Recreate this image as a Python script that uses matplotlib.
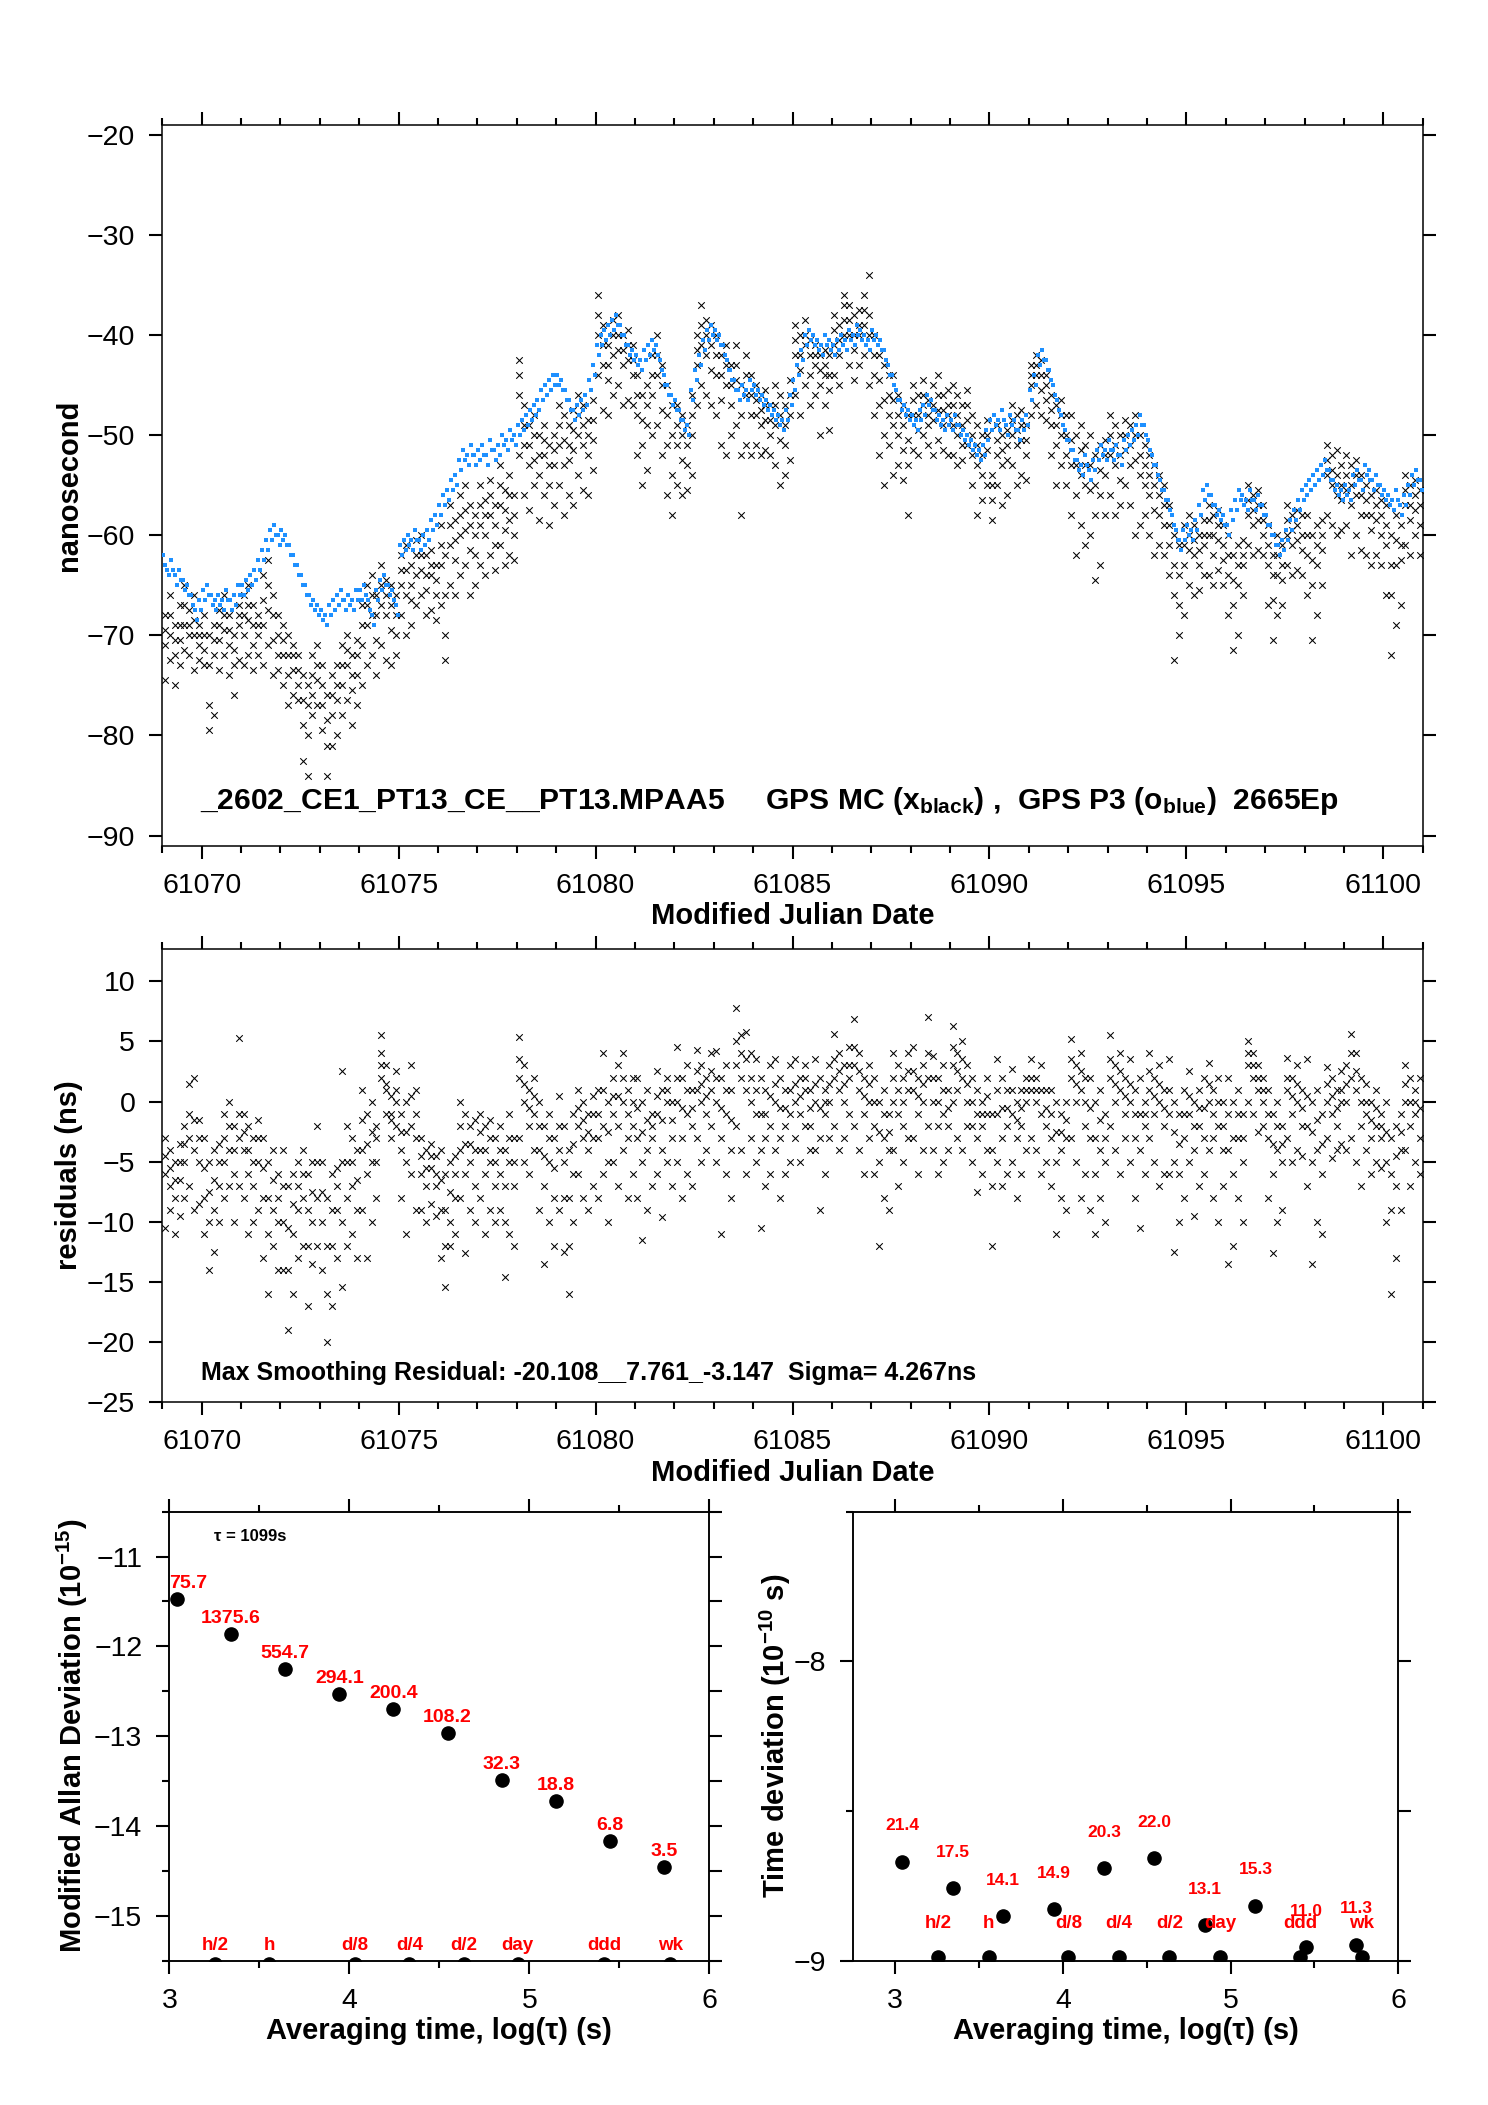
import numpy as np
import matplotlib
matplotlib.use('Agg')
import matplotlib.pyplot as plt
from matplotlib.ticker import MultipleLocator, FormatStrFormatter, NullFormatter

plt.rcParams['font.family'] = ['Liberation Sans', 'DejaVu Sans']
plt.rcParams['mathtext.fontset'] = 'custom'
plt.rcParams['mathtext.rm'] = 'Liberation Sans'
plt.rcParams['mathtext.bf'] = 'Liberation Sans:bold'
plt.rcParams['mathtext.it'] = 'Liberation Sans:italic'

# ---------------- data ----------------
mjd_first_day = 61069
# GPS P3 (blue dots), 20 epochs per day
p3_ns = [
    [-62,-63,-63.5,-64,-62.5,-63.5,-64,-65,-63.5,-64.5,-64.5,-65.5,-65,-66,-66,-67,-67.5,-68.5,-66.5,-67.5],
    [-65.5,-66.5,-65,-66,-66,-67,-66.5,-67.5,-66,-67,-66.5,-67.5,-65.5,-66.5,-66.5,-67.5,-66,-67,-65,-66],
    [-65,-66,-64.5,-65.5,-64,-65,-63.5,-64.5,-62.5,-63.5,-61.5,-62.5,-60.5,-61.5,-59.5,-60.5,-59,-60,-60,-61],
    [-59.5,-60.5,-60,-61,-61,-62,-62,-63,-63,-64,-64,-65,-65,-66,-66,-67,-66.5,-67.5,-67,-68],
    [-67.5,-68.5,-68,-69,-67,-68,-66.5,-67.5,-66,-67,-65.5,-66.5,-66.5,-67.5,-66,-67,-66.5,-67.5,-65.5,-66.5],
    [-65.5,-66.5,-65,-66,-66.5,-67.5,-68,-69,-65.5,-66.5,-64.5,-65.5,-64,-65,-65,-66,-65.5,-66.5,-67,-68],
    [-61,-62,-60.5,-61.5,-60,-61,-60.5,-61.5,-59.5,-60.5,-60.5,-61.5,-60,-61,-59.5,-60.5,-58.5,-59.5,-58,-59],
    [-57,-58,-56,-57,-55.5,-56.5,-54.5,-55.5,-54,-55,-52.5,-53.5,-51.5,-52.5,-52,-53,-51,-52,-52,-53],
    [-51.5,-52.5,-51,-52,-52,-53,-50.5,-51.5,-51.5,-52.5,-51,-52,-50,-51,-50.5,-51.5,-49.5,-50.5,-50,-51],
    [-49,-50,-48.5,-49.5,-48,-49,-47.5,-48.5,-47,-48,-46.5,-47.5,-45.5,-46.5,-45,-46,-44.5,-45.5,-44,-45],
    [-44,-45,-44.5,-45.5,-45.5,-46.5,-46.5,-47.5,-47.5,-48.5,-47,-48,-46.5,-47.5,-46,-47,-44.5,-45.5,-43,-44],
    [-41,-42,-40,-41,-39.5,-40.5,-39,-40,-38.5,-39.5,-38,-39,-39,-40,-40,-41,-41,-42,-41.5,-42.5],
    [-42,-43,-42.5,-43.5,-41.5,-42.5,-41,-42,-40.5,-41.5,-41,-42,-42.5,-43.5,-44,-45,-45,-46,-46,-47],
    [-46.5,-47.5,-47.5,-48.5,-48.5,-49.5,-49,-50,-45.5,-46.5,-43.5,-44.5,-42,-43,-40.5,-41.5,-39.5,-40.5,-39,-40],
    [-39.5,-40.5,-40,-41,-41,-42,-42.5,-43.5,-43.5,-44.5,-44.5,-45.5,-45.5,-46.5,-45,-46,-45.5,-46.5,-44.5,-45.5],
    [-45,-46,-45.5,-46.5,-46,-47,-46.5,-47.5,-47,-48,-47.5,-48.5,-48,-49,-48.5,-49.5,-47.5,-48.5,-46,-47],
    [-44.5,-45.5,-43,-44,-41.5,-42.5,-40,-41,-39.5,-40.5,-40,-41,-40.5,-41.5,-41,-42,-40,-41,-40.5,-41.5],
    [-41,-42,-40.5,-41.5,-40,-41,-40.5,-41.5,-39.5,-40.5,-40,-41,-39,-40,-39.5,-40.5,-40,-41,-40.5,-41.5],
    [-39.5,-40.5,-40,-41,-40.5,-41.5,-41.5,-42.5,-43,-44,-44,-45,-45.5,-46.5,-46.5,-47.5,-47,-48,-47.5,-48.5],
    [-48,-49,-48.5,-49.5,-47.5,-48.5,-47,-48,-46,-47,-46.5,-47.5,-47.5,-48.5,-48,-49,-48.5,-49.5,-48,-49],
    [-48.5,-49.5,-48,-49,-49,-50,-49.5,-50.5,-50,-51,-50.5,-51.5,-51,-52,-51.5,-52.5,-51,-52,-49.5,-50.5],
    [-48.5,-49.5,-48,-49,-48.5,-49.5,-47.5,-48.5,-49,-50,-48,-49,-48.5,-49.5,-49.5,-50.5,-48.5,-49.5,-48,-49],
    [-45.5,-46.5,-44,-45,-42,-43,-41.5,-42.5,-42.5,-43.5,-43.5,-44.5,-45,-46,-46.5,-47.5,-48,-49,-49.5,-50.5],
    [-50.5,-51.5,-51.5,-52.5,-52.5,-53.5,-53,-54,-52,-53,-53.5,-54.5,-52.5,-53.5,-51.5,-52.5,-51,-52,-51.5,-52.5],
    [-50.5,-51.5,-51.5,-52.5,-51,-52,-52,-53,-50.5,-51.5,-50,-51,-49.5,-50.5,-49,-50,-48,-49,-49,-50],
    [-50.5,-51.5,-52,-53,-53,-54,-54.5,-55.5,-55.5,-56.5,-56.5,-57.5,-58,-59,-59.5,-60.5,-60.5,-61.5,-59.5,-60.5],
    [-59,-60,-59.5,-60.5,-58.5,-59.5,-57,-58,-55.5,-56.5,-55,-56,-56,-57,-57,-58,-57.5,-58.5,-58,-59],
    [-59,-60,-57.5,-58.5,-56.5,-57.5,-55.5,-56.5,-56,-57,-56.5,-57.5,-55.5,-56.5,-56.5,-57.5,-56,-57,-57,-58],
    [-58,-59,-59,-60,-60,-61,-61,-62,-60.5,-61.5,-59.5,-60.5,-58.5,-59.5,-57.5,-58.5,-56.5,-57.5,-55.5,-56.5],
    [-55,-56,-54.5,-55.5,-54,-55,-53.5,-54.5,-53,-54,-52.5,-53.5,-53.5,-54.5,-54.5,-55.5,-55,-56,-55.5,-56.5],
    [-55,-56,-55.5,-56.5,-54,-55,-53.5,-54.5,-54.5,-55.5,-53,-54,-53.5,-54.5,-54.5,-55.5,-54,-55,-55,-56],
    [-55.5,-56.5,-56,-57,-56.5,-57.5,-55.5,-56.5,-57,-58,-56,-57,-55,-56,-54,-55,-53.5,-54.5,-54.5,-55.5],
]

# GPS MC (black x), 8 epochs per day, 4 tracks per epoch
mc_ns = [
    [-68,-69.5,-71,-74.5, -66,-68,-70,-72.5, -69,-70.5,-72,-75, -67,-69,-70.5,-73, -65,-67,-69,-71.5, -67.5,-69,-70,-72, -66,-68.5,-70,-73.5, -69,-70,-71,-72.5],
    [-68,-70,-71.5,-73, -70,-73,-77,-79.5, -69,-70.5,-72,-78, -67.5,-69,-70.5,-73.5, -66,-68,-69.5,-72, -68,-69.5,-71,-74, -70,-71.5,-73,-76, -67,-68,-69,-72.5],
    [-66,-68,-70,-73, -65,-67,-68.5,-72, -67,-69,-71,-73.5, -68,-69,-70,-72, -64,-66.5,-69,-73, -62.5,-65,-67.5,-71, -66,-68,-70.5,-74, -68,-70,-72,-73.5],
    [-69,-70.5,-72,-75, -70,-72,-74,-77, -71,-72,-73.5,-76, -72,-73.5,-75,-76.5, -74,-76.5,-79,-82.5, -75,-77,-80,-84, -72,-74,-76,-78, -71,-73,-74.5,-77],
    [-73,-75,-77,-79.5, -76,-78.5,-81,-84, -74,-76,-78,-81, -73,-75,-76.5,-80, -71,-73,-75,-78, -70,-71.5,-73,-76.5, -72,-74,-75.5,-79, -70.5,-72,-74,-77],
    [-67,-69,-71,-75, -65,-67,-69,-73, -64,-66,-68,-72, -66,-68,-70.5,-74, -63,-65,-67,-71, -64.5,-66,-68,-72.5, -65,-67,-69.5,-73, -66,-68,-70,-72],
    [-62,-63.5,-65,-68, -61,-63.5,-66,-70, -63,-65,-66.5,-69, -60.5,-62,-64,-67, -60,-62,-63.5,-66, -62,-64,-65.5,-68, -61.5,-63,-64,-67.5, -63,-64.5,-66,-68.5],
    [-59,-61,-63,-67, -62,-66,-70,-72.5, -57,-59,-61,-65, -58.5,-60.5,-62.5,-66, -56,-58,-60,-64, -55,-57.5,-59.5,-63, -57,-59,-61.5,-66, -58,-60,-62,-65],
    [-55,-57,-59,-63, -56.5,-58,-60,-64, -54.5,-56,-58,-62, -57,-59,-61,-63.5, -53,-55,-57,-61, -55.5,-57.5,-59.5,-63, -54,-56,-58.5,-62, -56,-58,-60,-62.5],
    [-42.5,-44,-46,-52, -47,-49,-51,-56, -49,-51,-53,-57.5, -48,-50,-52.5,-55, -50,-52,-54,-58.5, -49,-50.5,-52,-56, -51,-53,-55,-59, -50,-51.5,-53,-57],
    [-47,-49,-51,-55, -48,-50.5,-53,-58, -49,-51,-52.5,-56, -47.5,-49.5,-51.5,-57, -46,-48,-50,-54, -47,-49,-51,-55.5, -48.5,-50,-52,-56, -46.5,-48.5,-50.5,-53.5],
    [-36,-38,-40,-44, -39,-41,-43,-47.5, -41,-43,-44.5,-48, -38.5,-40,-42,-46, -38,-40,-41.5,-45, -40,-41.5,-43,-47, -39.5,-41,-42.5,-46.5, -41,-42.5,-44,-47],
    [-44,-46,-48,-52, -46,-48.5,-51,-55, -45,-47,-49,-53.5, -42,-44,-46,-50, -40,-42,-44,-49, -43,-45,-47.5,-52, -45,-48,-51,-56, -47,-50,-54,-58],
    [-47,-49,-51,-55, -48,-50,-52.5,-56, -49,-51,-53,-55.5, -46,-48,-50,-54, -40,-41.5,-43,-47, -37,-39,-41,-45, -38.5,-40,-42,-46, -39,-41,-43.5,-47],
    [-40,-42,-44,-48, -42,-44,-46.5,-51, -41,-43,-45,-52, -43,-45,-47,-50, -41,-43,-44.5,-49, -45,-48,-52,-58, -42,-44,-46,-51, -44,-46,-48,-52],
    [-45,-46.5,-48,-51, -46,-47.5,-49,-52, -45.5,-47,-48.5,-51.5, -47,-48.5,-50,-52, -45,-47,-49,-53, -46,-48,-50.5,-55, -47,-49,-51,-54, -44.5,-46,-48,-52.5],
    [-39,-40.5,-42,-46, -40,-42,-43.5,-48, -38.5,-40,-41,-45, -40.5,-42,-44,-47, -41,-42,-43,-46, -42,-43.5,-45,-50, -41.5,-43,-44,-47, -42,-44,-45.5,-49.5],
    [-38,-39.5,-41,-44, -39,-40.5,-42,-45, -36,-37,-38.5,-40, -37,-38.5,-40,-43, -38,-40,-41.5,-44.5, -37.5,-39,-40,-43, -36,-37.5,-39,-42, -34,-38,-40,-45],
    [-40,-42,-44,-48, -42,-44.5,-47,-52, -43,-46.5,-50,-55, -44,-46,-48,-51, -44,-46.5,-49,-54, -46,-48,-50,-53, -47,-49,-51.5,-54.5, -48,-50.5,-53,-58],
    [-45,-46.5,-48,-51.5, -46,-48,-49.5,-52, -44.5,-46,-47,-50, -46.5,-48,-49,-51, -45,-47,-48.5,-52, -44,-46,-47.5,-50.5, -46,-47.5,-49,-51.5, -45.5,-47,-48,-52],
    [-45,-47,-49,-52, -46,-48,-50,-53, -47,-49,-51,-52.5, -45.5,-47,-48.5,-51, -48,-50,-52,-55, -49,-51,-53,-58, -50,-52,-54,-56.5, -48.5,-50,-51.5,-55],
    [-54,-55,-56.5,-58.5, -49,-50.5,-52,-55, -50,-51.5,-53,-57, -49.5,-51,-52.5,-56, -47,-48.5,-50,-53, -48,-49.5,-51,-55, -47.5,-49,-50.5,-54, -49,-50.5,-52,-54.5],
    [-43,-44,-45,-48, -42,-43,-44,-47, -42.5,-44,-45.5,-48, -44,-45,-46.5,-48.5, -46,-47.5,-49,-52, -47,-49,-51,-55, -46.5,-48,-50,-53, -48,-50,-52,-55],
    [-48,-50.5,-53,-58, -50,-53,-56,-62, -49,-51.5,-54,-59, -51,-53,-55,-61, -50,-53,-55.5,-60, -52,-55,-58,-64.5, -51,-53.5,-56,-63, -50.5,-52,-54,-58],
    [-48,-50,-52,-56, -49,-51,-53,-58, -50,-52,-54.5,-57, -48.5,-50,-51.5,-55, -49,-51,-53,-57, -48,-50,-52.5,-60, -50,-52,-54,-59, -51,-53,-55,-58],
    [-52,-54,-56,-60, -53,-55,-57.5,-62, -54,-56,-58,-61, -55,-57,-59,-62, -57,-59,-61,-64, -60,-63,-66,-72.5, -61,-64,-67,-70, -59,-61,-63,-68],
    [-58,-60,-61.5,-65, -59,-60.5,-62,-66, -60,-61.5,-63,-65.5, -58.5,-60,-61,-64, -57,-58.5,-60,-64, -58,-60,-62,-65, -57.5,-59,-60.5,-63.5, -59,-61,-62.5,-65],
    [-60,-62,-64,-68, -62,-64.5,-67,-71.5, -61,-63,-65,-70, -60.5,-62,-63,-66, -55,-56.5,-58,-61, -56,-57.5,-59,-62, -55.5,-57,-58.5,-61.5, -57,-58.5,-60,-62],
    [-59,-61,-63,-67, -62,-64,-66.5,-70.5, -60,-62,-64,-68, -61,-63,-64.5,-67, -57,-58.5,-60,-63, -58,-59.5,-61,-64, -57.5,-59,-60.5,-63.5, -58,-60,-61.5,-64],
    [-58,-60,-62,-66, -60,-62.5,-65,-70.5, -59,-61,-63,-68, -58.5,-60,-61.5,-65, -51,-52.5,-54,-58, -52,-53.5,-55,-59, -51.5,-54,-56,-60, -53,-55,-56.5,-59.5],
    [-52,-54,-55.5,-59, -53,-55,-57,-62, -52.5,-54,-56,-60, -54,-56,-58,-61.5, -55,-56.5,-58,-62, -56,-58,-59.5,-63, -55.5,-57,-58.5,-62, -56.5,-58,-60,-63],
    [-57,-59,-61,-66, -60,-63,-66,-72, -58,-60.5,-63,-69, -59,-61,-62.5,-67, -54,-55.5,-57,-61, -55,-57,-58.5,-62, -54.5,-56,-57.5,-60, -55.5,-57,-59,-62],
]

# smoothing residuals (ns), same epochs / tracks as mc_ns
resid_ns = [
    [-3,-4.5,-6,-10.5, -4,-5.5,-7,-9, -5,-6.5,-8,-11, -3.5,-5,-6.5,-9.5, -2,-3.5,-5,-8, 1.5,-1,-3,-7, 2,-1.5,-4,-9, -1.5,-3,-5,-8.5],
    [-3,-5.5,-8,-11, -5,-7.5,-10,-14, -4,-6.5,-9,-12.5, -3.5,-5,-7,-10, -1,-3,-5,-8, 0,-2,-4,-7, -2,-4,-6,-10, 5.3,-1,-3,-7],
    [-1,-2.5,-4,-8, -2,-4,-6,-11, -3,-5,-7,-10, -1.5,-3,-5,-9, -3,-5.5,-8,-13, -5,-8,-11,-16, -4,-6.5,-9,-12, -6,-8,-10,-14],
    [-4,-7,-10,-14, -7,-10.5,-14,-19, -6,-8.5,-11,-16, -5,-7,-9,-13, -4,-6,-8,-12, -6,-9,-12,-17, -5,-7.5,-10,-13.5, -2,-5,-8,-12],
    [-5,-7.5,-10,-14, -8,-12,-16,-20, -6,-9,-12,-17, -5.5,-7,-9,-13, 2.5,-5,-10,-15.4, -2,-5,-8,-12, -3,-5,-7,-11, -4,-6.5,-9,-13],
    [1,-1.5,-4,-9, -1,-3.5,-6,-13, 0,-2.5,-5,-10, -2,-3,-5,-8, 2,4,3,5.5, 1,3,1.5,-1, -1,0.5,-1.5,-3, 0,2.5,1,-2],
    [-1,-2.5,-4,-8, 0,-2.5,-5,-11, 3,0.5,-2,-6, 1,-1,-3,-9, -3,-4.5,-6,-9, -4,-5.5,-7,-10, -3.5,-4.5,-5.5,-8.5, -4.5,-6,-7,-9.5],
    [-4,-6.5,-9,-13, -6,-9,-12,-15.4, -5,-7.5,-10,-12, -4.5,-6,-8,-11, 0,-2,-4,-8, -1,-3.5,-6,-12.6, -2,-3.5,-5,-9, -1.5,-4,-7,-10],
    [-1,-2.5,-4,-8, -2,-4,-6,-11, -1.5,-3,-5,-9, -3,-5,-7,-10, -2,-4,-6,-9, -4,-7,-10,-14.6, -1,-3,-5,-11, -3,-5,-7,-12],
    [5.4,3.5,2,-3, 3,1.5,0,-5, 1,-0.5,-2,-6, 2,0.5,-1,-4, 0,-2,-4,-9, -2,-4.5,-7,-13.5, -1,-3,-5,-10, -3,-5.5,-8,-12],
    [0.5,-2,-4,-9, -2,-5,-8,-12.5, -4,-8,-12,-16, -1,-3.5,-6,-10, 1,-0.5,-2,-6, 0,-1.5,-3,-8, -1,-2.5,-4,-9, 0.5,-1,-3,-7],
    [1,-1,-3,-8, 4,1,-2,-6, 0,-2.5,-5,-10, 2,0.5,-1,-5, 3,0.5,-2,-7, 4,2,0,-4, 1,-1,-3,-8, 2,0,-2,-6],
    [2,-0.5,-3,-8, 0,-2.5,-5,-11.5, 1,-1.5,-4,-9, -1,-2,-3,-7, 2.5,0.5,-1,-6, 1,-1.5,-4,-9.6, 2,1,0,-5, 0,-1.5,-3,-7],
    [4.5,2,0,-5, 2,-0.5,-3,-8, 3,1,-1,-6, 1,-0.5,-2,-7, 4.3,2.5,1,-3, 3,1.5,0,-5, 2,0.5,-1,-4, 4,2.5,1,-2],
    [4.2,2,0,-5, 2,-0.5,-3,-11, 3,1,-1,-6, 1,-1.5,-4,-8, 7.8,5,3,-2, 5.5,4,2,-4, 5.8,3.5,1,-6, 4,2,0,-3],
    [3.5,1,-1,-5, 2,-1,-4,-10.5, 1,-1,-3,-7, 3,0.5,-2,-6, 3.5,1.5,0,-4, 2,-0.5,-3,-8, 1,-0.5,-2,-6, 3,1,-1,-5],
    [3.5,1.5,0,-3, 2,0.5,-1,-5, 3,2,1,-2, 1,-0.5,-2,-4, 3.5,1.5,0,-4, 2,-0.5,-3,-9, 1,0,-1,-6, 3,1.5,0,-3],
    [5.6,3.5,2,-2, 4,2.5,1,-4, 3,1.5,0,-3, 4.5,3,2,-1, 6.9,4.5,3,-2, 4,2.5,1,-4, 2,0.5,-1,-6, 3,1.5,0,-3],
    [2,0,-2,-6, 0,-2.5,-5,-12, 1,-1,-3,-8, -1,-2.5,-4,-9, 4,2,0,-4, 3,1,-1,-7, 2,0,-2,-5, 4,2.5,1,-3],
    [4.5,2.5,1,-3, 2,0.5,-1,-6, 3,1.5,0,-4, 7,4,2,-2, 3.8,2,0,-4, 2,0,-2,-6, 3,1,-1,-5, 1,-0.5,-2,-4],
    [6.3,4.5,3,0, 4,2.5,1,-3, 5,3.5,2,-4, 3,1.5,0,-2, 2,0,-2,-5, 1,-1,-3,-7.5, 0,-1,-2,-6, 2,0.5,-1,-4],
    [-1,-4,-7,-12, 3.5,1,-1,-5, 2,-0.5,-3,-7, 1,-0.5,-2,-6, 2.7,1,-1,-5, 0,-1.5,-3,-8, 1,-0.5,-2,-6, 2,1,0,-4],
    [3.5,2,1,-3, 2,1,0,-4, 3,1,-1,-6, 1,-0.5,-2,-5, 1,-1,-3,-7, 0,-2.5,-5,-11, -1,-2.5,-4,-8, 0,-1.5,-3,-9],
    [5.2,3.5,2,-3, 3,1.5,0,-5, 4,2.5,1,-8, 2,0,-2,-6, 2,-0.5,-3,-9, 0,-3,-6,-11, 1,-1.5,-4,-8, -1,-3,-5,-10],
    [5.5,3.5,2,-2, 3,1.5,0,-4, 4,2.5,1,-6, 2,0.5,-1,-3, 3.5,1.5,0,-5, 1,-1,-3,-8, 2,-1,-4,-10.5, 0,-1,-2,-6],
    [4,2.5,1,-3, 2,0.5,-1,-5, 3,1.5,0,-7, 1,-0.5,-2,-6, 3.5,1,-1,-6, 0,-2.5,-5,-12.5, -1,-3.5,-6,-10, 1,-1,-3,-8],
    [2.5,0.5,-1,-5, 0,-2,-4,-9.5, 1,-0.5,-2,-7, 2,-0.5,-3,-6, 3.2,1.5,0,-4, 1,-1,-3,-8, 2,0,-2,-10, 0,-2,-4,-7],
    [2,-1,-4,-13.5, 0,-3,-6,-12, 1,-1,-3,-8, -1,-3,-5,-10, 5,4,3,0, 4,3,2,-1, 3,2,1,-2.5, 2,1,0,-2],
    [1,-1,-3,-8, -1,-3.5,-6,-12.6, 0,-2,-4,-10, -2,-3.5,-5,-9, 3.6,2,1,-3, 2,0.5,-1,-5, 3,1.5,0,-4, 1,-0.5,-2,-4.5],
    [3.5,0.5,-2,-7, 0,-2.5,-5,-13.5, 1,-1.5,-4,-10, -1,-3.5,-6,-11, 2.9,1.5,0,-3, 2,0.5,-1,-4.7, 1,-0.5,-2,-4, 2.5,1,0,-3.5],
    [3,1.5,0,-4, 5.6,4,2,-3, 4,2.5,1,-5, 2,0,-2,-7, 1.5,0,-1,-4, 0,-1.5,-3,-6, 1,-0.5,-2,-5, -1,-2,-3,-5.5],
    [0,-2.5,-5,-10, -3,-6,-9,-16, -2,-4.5,-7,-13, -1,-2.5,-4,-9, 3,1.5,0,-4, 2,0,-2,-7, 1,0,-1,-5, 2,-0.5,-3,-6],
]
tracks_per_epoch = 4

# stability panels
logtau = [3.041, 3.342, 3.643, 3.944, 4.245, 4.546, 4.847, 5.148, 5.449, 5.750]
mdev_log = [-11.47, -11.86, -12.25, -12.53, -12.70, -12.96, -13.49, -13.72, -14.16, -14.45]
mdev_labels = ['75.7', '1375.6', '554.7', '294.1', '200.4', '108.2', '32.3', '18.8', '6.8', '3.5']
tdev_log = [-8.668, -8.755, -8.850, -8.826, -8.689, -8.656, -8.880, -8.815, -8.953, -8.945]
tdev_labels = ['21.4', '17.5', '14.1', '14.9', '20.3', '22.0', '13.1', '15.3', '11.0', '11.3']
period_logtau = [3.255, 3.556, 4.033, 4.334, 4.635, 4.936, 5.414, 5.782]
period_labels = ['h/2', 'h', 'd/8', 'd/4', 'd/2', 'day', 'ddd', 'wk']
mdev_period_level = -15.53
tdev_period_level = -8.988
tau0_text = 'τ = 1099s'

# ------------- derived arrays -------------
p3_t, p3_y = [], []
for d, row in enumerate(p3_ns):
    for k, v in enumerate(row):
        p3_t.append(mjd_first_day + d + (k + 0.5) / len(row))
        p3_y.append(v)
mc_t, mc_y, rs_y = [], [], []
for d, (row, rrow) in enumerate(zip(mc_ns, resid_ns)):
    n_ep = len(row) // tracks_per_epoch
    for e in range(n_ep):
        for j in range(tracks_per_epoch):
            mc_t.append(mjd_first_day + d + (e + 0.5) / n_ep)
            mc_y.append(row[tracks_per_epoch * e + j])
            rs_y.append(rrow[tracks_per_epoch * e + j])

# ---------------- figure ----------------
fig = plt.figure(figsize=(14.88, 21.05), dpi=100)
ax1 = fig.add_axes([0.1091, 0.5983, 0.8470, 0.3423])
ax2 = fig.add_axes([0.1091, 0.3340, 0.8470, 0.2152])
ax3 = fig.add_axes([0.1138, 0.0684, 0.3629, 0.2135])
ax4 = fig.add_axes([0.5735, 0.0684, 0.3662, 0.2135])

TICK_FS = 20.5
LAB_FS = 21


def base_style(ax):
    for s in ax.spines.values():
        s.set_linewidth(1.1)
    ax.tick_params(which='both', direction='out', width=1.5, labelsize=TICK_FS, pad=10)
    ax.tick_params(which='major', length=9.5)
    ax.tick_params(which='minor', length=5)


for ax in (ax1, ax2):
    ax.set_xlim(61069, 61101)
    ax.xaxis.set_major_locator(MultipleLocator(5))
    ax.xaxis.set_minor_locator(MultipleLocator(1))
    ax.xaxis.set_major_formatter(FormatStrFormatter('%d'))
    base_style(ax)
    ax.tick_params(which='both', top=True, right=True)
    ax.tick_params(axis='y', which='minor', left=False, right=False)

ax1.scatter(mc_t, mc_y, marker='x', s=22, c='black', linewidths=0.75, zorder=2)
ax1.scatter(p3_t, p3_y, marker='s', s=8, c='#1E90FF', linewidths=0, zorder=3)
ax1.set_ylim(-91, -19)
ax1.yaxis.set_major_locator(MultipleLocator(10))
ax1.set_ylabel('nanosecond', fontsize=LAB_FS, fontweight='bold')
ax1.yaxis.set_label_coords(-0.063, 0.5)
ax1.set_xlabel('Modified Julian Date', fontsize=LAB_FS, fontweight='bold')
ax1.xaxis.set_label_coords(0.5, -0.078)
ax1.text(0.030, 0.051,
         r'_2602_CE1_PT13_CE__PT13.MPAA5     GPS MC (x$_{\mathbf{black}}$) ,  GPS P3 (o$_{\mathbf{blue}}$)  2665Ep',
         transform=ax1.transAxes, fontsize=21.6, fontweight='bold', va='baseline', ha='left')

ax2.scatter(mc_t, rs_y, marker='x', s=22, c='black', linewidths=0.75)
ax2.set_ylim(-25, 12.7)
ax2.yaxis.set_major_locator(MultipleLocator(5))
ax2.set_ylabel('residuals (ns)', fontsize=LAB_FS, fontweight='bold')
ax2.yaxis.set_label_coords(-0.063, 0.5)
ax2.set_xlabel('Modified Julian Date', fontsize=LAB_FS, fontweight='bold')
ax2.xaxis.set_label_coords(0.5, -0.125)
ax2.text(0.031, 0.048, 'Max Smoothing Residual: -20.108__7.761_-3.147  Sigma= 4.267ns',
         transform=ax2.transAxes, fontsize=18, fontweight='bold', va='baseline', ha='left')


def stab_style(ax, xlim, ylim):
    ax.set_xlim(*xlim)
    ax.set_ylim(*ylim)
    ax.xaxis.set_major_locator(MultipleLocator(1))
    ax.xaxis.set_minor_locator(MultipleLocator(0.5))
    base_style(ax)
    ax.tick_params(which='both', top=True, right=False)
    axr = ax.twinx()
    axr.set_ylim(*ylim)
    axr.yaxis.set_major_locator(MultipleLocator(0.5))
    axr.yaxis.set_major_formatter(NullFormatter())
    axr.tick_params(which='major', direction='out', length=9.5, width=1.5)
    for s in axr.spines.values():
        s.set_linewidth(1.1)
    ax.set_xlabel('Averaging time, log(τ) (s)', fontsize=LAB_FS, fontweight='bold')
    ax.xaxis.set_label_coords(0.5, -0.125)


stab_style(ax3, (3, 6), (-15.5, -10.5))
ax3.yaxis.set_major_locator(MultipleLocator(1))
ax3.yaxis.set_minor_locator(MultipleLocator(0.5))
ax3.scatter(logtau, mdev_log, s=90, c='black', zorder=3, clip_on=False)
for i, (x, y, lab) in enumerate(zip(logtau, mdev_log, mdev_labels)):
    dx = 11 if i == 0 else 0
    ax3.annotate(lab, (x, y), xytext=(dx * 0.72, 15.4 * 0.72), textcoords='offset points',
                 ha='center', va='center', color='red', fontsize=14, fontweight='bold')
ax3.scatter(period_logtau, [mdev_period_level] * len(period_logtau), s=90, c='black', zorder=3)
for x, lab in zip(period_logtau, period_labels):
    ax3.text(x, -15.325, lab, ha='center', va='center', color='red', fontsize=13.5, fontweight='bold')
ax3.text(3.25, -10.78, tau0_text, fontsize=12, fontweight='bold', va='center', ha='left')
ax3.set_ylabel(r'Modified Allan Deviation (10$^{\mathbf{-15}}$)', fontsize=LAB_FS, fontweight='bold')
ax3.yaxis.set_label_coords(-0.146, 0.5)

stab_style(ax4, (2.75, 6), (-9, -7.5))
ax4.yaxis.set_major_locator(MultipleLocator(1))
ax4.yaxis.set_minor_locator(MultipleLocator(0.5))
ax4.scatter(logtau, tdev_log, s=90, c='black', zorder=3)
for x, y, lab in zip(logtau, tdev_log, tdev_labels):
    ax4.annotate(lab, (x, y), xytext=(0, 35.6 * 0.72), textcoords='offset points',
                 ha='center', va='center', color='red', fontsize=12.5, fontweight='bold')
ax4.scatter(period_logtau, [tdev_period_level] * len(period_logtau), s=90, c='black', zorder=3)
for x, lab in zip(period_logtau, period_labels):
    ax4.text(x, -8.875, lab, ha='center', va='center', color='red', fontsize=13.5, fontweight='bold')
ax4.set_ylabel(r'Time deviation (10$^{\mathbf{-10}}$ s)', fontsize=LAB_FS, fontweight='bold')
ax4.yaxis.set_label_coords(-0.11, 0.5)

fig.savefig('out.png', dpi=100, facecolor='white')
